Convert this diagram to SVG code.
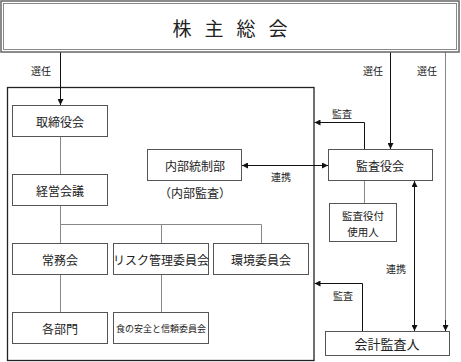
<svg xmlns="http://www.w3.org/2000/svg" width="461" height="362" viewBox="0 0 461 362">
<style>
.box{fill:#fff;stroke:#555;stroke-width:1}
.t{font-family:"Noto Sans CJK JP","Noto Sans CJK SC",sans-serif;font-size:12px;fill:#222;text-anchor:middle;dominant-baseline:central}
.s{font-size:10px}
.h{font-size:19px}
.tree{fill:none;stroke:#888;stroke-width:1}
.arr{fill:none;stroke:#111;stroke-width:1}
</style>
<defs>
<marker id="ah" viewBox="0 0 10 10" refX="10" refY="5" markerWidth="6" markerHeight="6" orient="auto-start-reverse" markerUnits="userSpaceOnUse">
<path d="M0,0 L10,5 L0,10 Z" fill="#111"/>
</marker>
</defs>
<rect x="0" y="0" width="461" height="362" fill="#fff"/>
<g id="frame">
<rect x="7.5" y="87.5" width="306.5" height="273" fill="none" stroke="#222" stroke-width="1.3"/>
</g>
<g id="connectors">
<path class="arr" d="M60.5,52 V105" marker-end="url(#ah)"/>
<path class="arr" d="M390.5,52 V149" marker-end="url(#ah)"/>
<path class="tree" d="M445.5,52 V331" stroke="#777"/>
<path class="arr" d="M445.5,320 V331" marker-end="url(#ah)"/>
<path class="arr" d="M364.5,149 V122.5 H314.5" marker-end="url(#ah)"/>
<path class="arr" d="M242,165.5 H328" marker-start="url(#ah)" marker-end="url(#ah)"/>
<path class="arr" d="M414.5,181 V331" marker-start="url(#ah)" marker-end="url(#ah)"/>
<path class="arr" d="M362.5,331 V283.5 H314.5" marker-end="url(#ah)"/>
<path class="tree" d="M60.5,136 V174 M60.5,206 V243 M60.5,224.5 H261.5 V243 M161.5,224.5 V243 M60.5,274 V312 M161.5,274 V312 M364.5,181 V203"/>
</g>
<g id="soukai">
<rect x="1" y="1" width="458" height="51" fill="#fff" stroke="#666" stroke-width="1.5"/>
<rect x="3.5" y="3.5" width="453" height="46" fill="none" stroke="#888" stroke-width="1"/>
<text class="t h" x="182" y="27">株</text>
<text class="t h" x="214" y="27">主</text>
<text class="t h" x="246" y="27">総</text>
<text class="t h" x="278" y="27">会</text>
</g>
<g id="labels">
<text class="t s" x="41" y="70">選任</text>
<text class="t s" x="373" y="70">選任</text>
<text class="t s" x="427" y="70">選任</text>
<text class="t s" x="342" y="113">監査</text>
<text class="t s" x="281" y="176">連携</text>
<text class="t s" x="396" y="268">連携</text>
<text class="t s" x="343" y="295">監査</text>
</g>
<g id="torishimari"><rect class="box" x="12.5" y="105.5" width="95" height="31"/><text class="t" x="60" y="121">取締役会</text></g>
<g id="keiei"><rect class="box" x="12.5" y="174.5" width="95" height="31"/><text class="t" x="60" y="190">経営会議</text></g>
<g id="naibu"><rect class="box" x="147.5" y="149.5" width="94" height="31"/><text class="t" x="195" y="165">内部統制部</text><text class="t" x="195" y="192">（内部監査）</text></g>
<g id="kansayaku"><rect class="box" x="328.5" y="149.5" width="104" height="31"/><text class="t" x="380" y="165">監査役会</text></g>
<g id="shiyounin"><rect class="box" x="329.5" y="203.5" width="67" height="38"/><text class="t" x="363" y="215" style="font-size:10.5px">監査役付</text><text class="t" x="363" y="231" style="font-size:10.5px">使用人</text></g>
<g id="joumu"><rect class="box" x="12.5" y="243.5" width="95" height="31"/><text class="t" x="60" y="259">常務会</text></g>
<g id="risk"><rect class="box" x="113.5" y="243.5" width="95" height="31"/><text class="t" x="161" y="259">リスク管理委員会</text></g>
<g id="kankyou"><rect class="box" x="213.5" y="243.5" width="95" height="31"/><text class="t" x="261" y="259">環境委員会</text></g>
<g id="kakubumon"><rect class="box" x="12.5" y="312.5" width="95" height="31"/><text class="t" x="60" y="328">各部門</text></g>
<g id="shoku"><rect class="box" x="113.5" y="312.5" width="95" height="31"/><text class="t" x="161" y="328" style="font-size:9px">食の安全と信頼委員会</text></g>
<g id="kaikei"><rect class="box" x="325.5" y="331.5" width="124" height="24"/><text class="t" x="387" y="343" style="font-size:13px">会計監査人</text></g>
</svg>
